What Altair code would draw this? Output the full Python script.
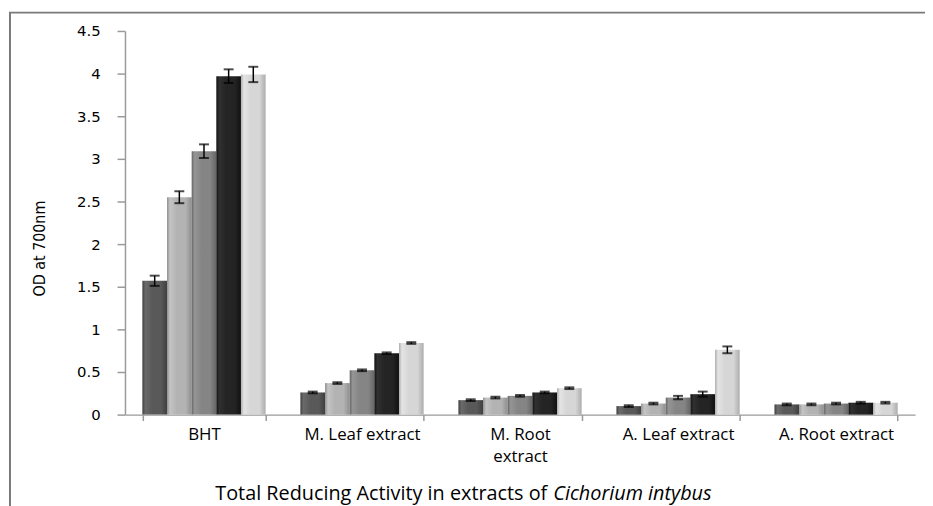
import altair as alt
import pandas as pd

groups = ["BHT", "M. Leaf extract", "M. Root extract", "A. Leaf extract", "A. Root extract"]
series = ["Conc. 1", "Conc. 2", "Conc. 3", "Conc. 4", "Conc. 5"]

s1 = [1.57, 0.26, 0.17, 0.10, 0.12]
s2 = [2.55, 0.37, 0.20, 0.13, 0.12]
s3 = [3.09, 0.52, 0.22, 0.20, 0.13]
s4 = [3.97, 0.72, 0.26, 0.24, 0.14]
s5 = [3.99, 0.84, 0.31, 0.76, 0.14]

e1 = [0.06, 0.01, 0.01, 0.01, 0.01]
e2 = [0.07, 0.01, 0.01, 0.01, 0.01]
e3 = [0.08, 0.01, 0.01, 0.02, 0.01]
e4 = [0.08, 0.01, 0.01, 0.03, 0.01]
e5 = [0.09, 0.01, 0.01, 0.04, 0.01]

colors = ["#595959", "#b3b3b3", "#858585", "#242424", "#d6d6d6"]
edge = ["#3f3f3f", "#8f8f8f", "#666666", "#111111", "#adadad"]
light = ["#6a6a6a", "#c4c4c4", "#959595", "#303030", "#e4e4e4"]

y_ticks = [0, 0.5, 1, 1.5, 2, 2.5, 3, 3.5, 4, 4.5]

rows = []
for sname, vals, errs in zip(series, [s1, s2, s3, s4, s5], [e1, e2, e3, e4, e5]):
    for g, v, e in zip(groups, vals, errs):
        rows.append({"group": g, "series": sname, "value": v, "lo": v - e, "hi": v + e})
df = pd.DataFrame(rows)

x_enc = alt.X(
    "group:N",
    sort=groups,
    scale=alt.Scale(domain=groups, paddingInner=0.22, paddingOuter=0.11),
    axis=alt.Axis(
        title=None,
        labelAngle=0,
        tickBand="extent",
        grid=False,
        labelExpr="datum.label == 'M. Root extract' ? ['M. Root', 'extract'] : datum.label",
        labelFont="Open Sans",
        labelFontSize=17,
        labelColor="#000000",
        labelPadding=6,
        labelLineHeight=22,
        labelOverlap=False,
        labelBound=False,
        labelLimit=300,
        tickSize=6,
        domainColor="#9a9a9a",
        tickColor="#9a9a9a",
        domainWidth=1.5,
        tickWidth=1.5,
    ),
)
xo_enc = alt.XOffset("series:N", scale=alt.Scale(domain=series, paddingInner=0.0, paddingOuter=0.0))
y_scale = alt.Scale(domain=[0, 4.5], nice=False)
y_axis = alt.Axis(
    title="OD at 700nm",
    values=y_ticks,
    format=".1~f",
    grid=False,
    labelFont="DejaVu Sans",
    labelFontSize=15,
    labelColor="#000000",
    labelPadding=17,
    tickSize=8,
    domainColor="#9a9a9a",
    tickColor="#9a9a9a",
    domainWidth=1.5,
    tickWidth=1.5,
    titleFont="DejaVu Sans Condensed, Liberation Sans",
    titleFontSize=16,
    titleFontWeight="normal",
    titleColor="#000000",
    titleX=-86,
    titleY=219,
    titleAngle=270,
    titleAlign="center",
    titleBaseline="middle",
)

base = alt.Chart(df)

layers = []
for i, sname in enumerate(series):
    grad = alt.Gradient(
        gradient="linear",
        x1=0, x2=1, y1=0, y2=0,
        stops=[
            alt.GradientStop(color=edge[i], offset=0),
            alt.GradientStop(color=light[i], offset=0.12),
            alt.GradientStop(color=colors[i], offset=0.4),
            alt.GradientStop(color=colors[i], offset=0.75),
            alt.GradientStop(color=edge[i], offset=1),
        ],
    )
    enc_y = alt.Y("value:Q", scale=y_scale, axis=y_axis) if i == 0 else alt.Y("value:Q", scale=y_scale)
    layers.append(
        base.transform_filter(alt.datum.series == sname)
        .mark_bar(fill=grad)
        .encode(x=x_enc, xOffset=xo_enc, y=enc_y)
    )

err_rule = base.mark_rule(color="#000000", strokeWidth=1.5).encode(
    x=x_enc, xOffset=xo_enc, y=alt.Y("lo:Q", scale=y_scale), y2="hi:Q"
)
cap_lo = base.mark_tick(color="#000000", thickness=2, size=10, orient="horizontal").encode(
    x=x_enc, xOffset=xo_enc, y=alt.Y("lo:Q", scale=y_scale)
)
cap_hi = base.mark_tick(color="#000000", thickness=2, size=10, orient="horizontal").encode(
    x=x_enc, xOffset=xo_enc, y=alt.Y("hi:Q", scale=y_scale)
)

one = pd.DataFrame({"k": [0]})
frame = alt.Chart(one).mark_rect(fill="transparent", stroke="#7a7a7a", strokeWidth=2).encode(
    x=alt.value(-116), x2=alt.value(1200), y=alt.value(-18.5), y2=alt.value(900)
)

title_txt = ["Total Reducing Activity in extracts of", "Cichorium intybus"]
title_a = alt.Chart(pd.DataFrame({"t": [title_txt[0]]})).mark_text(
    font="Open Sans", fontSize=20, align="right", baseline="middle", color="#000000"
).encode(text="t:N", x=alt.value(426), y=alt.value(467))
title_b = alt.Chart(pd.DataFrame({"t": [title_txt[1]]})).mark_text(
    font="Open Sans", fontSize=20, fontStyle="italic", align="left", baseline="middle", color="#000000"
).encode(text="t:N", x=alt.value(432), y=alt.value(467))

chart = (
    alt.layer(*layers, err_rule, cap_lo, cap_hi, frame, title_a, title_b)
    .properties(
        width=797,
        height=387,
        background="#ffffff",
        view=alt.ViewBackground(stroke="transparent", strokeWidth=0),
        autosize=alt.AutoSizeParams(type="none"),
        padding={"left": 118, "top": 21, "right": 10, "bottom": 90},
    )
    .configure(style={"cell": {"stroke": "transparent", "strokeWidth": 0}})
    .configure_view(strokeWidth=0, stroke="transparent")
    .configure_axis(grid=False)
)

chart.save("out.html", embed_options={"renderer": "svg", "actions": False})
